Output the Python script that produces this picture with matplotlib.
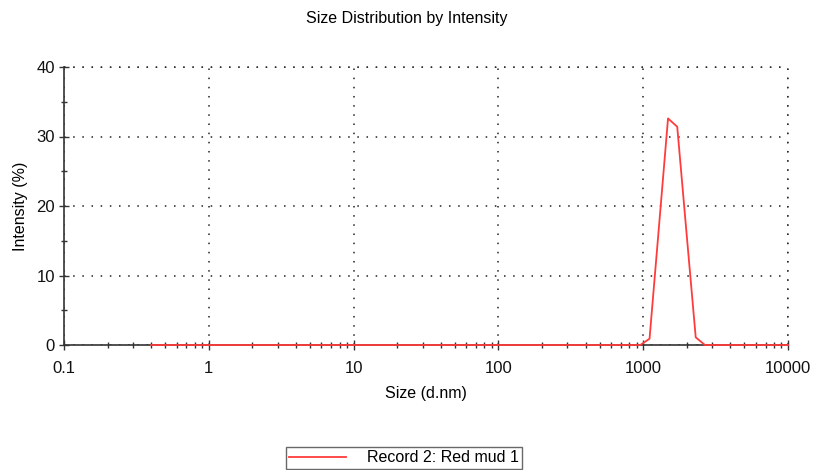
import matplotlib

matplotlib.use("Agg")
import matplotlib.pyplot as plt
from matplotlib import font_manager
from matplotlib.ticker import FixedLocator, NullFormatter

# Zetasizer size bins (d.nm) and intensity (%)
sizes = [0.4, 0.4632, 0.5365, 0.6213, 0.7195, 0.8332, 0.9649, 1.117, 1.294, 1.499,
         1.736, 2.010, 2.328, 2.696, 3.122, 3.615, 4.187, 4.849, 5.615, 6.503,
         7.531, 8.721, 10.10, 11.70, 13.54, 15.69, 18.17, 21.04, 24.36, 28.21,
         32.67, 37.84, 43.82, 50.75, 58.77, 68.06, 78.82, 91.28, 105.7, 122.4,
         141.8, 164.2, 190.1, 220.2, 255.0, 295.3, 342.0, 396.1, 458.7, 531.2,
         615.1, 712.4, 825.0, 955.4, 1106, 1281, 1484, 1718, 1990, 2305,
         2669, 3091, 3580, 4145, 4801, 5560, 6439, 7456, 8635, 10000]
intensity = [0.0] * 54 + [0.9, 16.7, 32.6, 31.4, 16.2, 1.1] + [0.0] * 10

x_ticks = [0.1, 1, 10, 100, 1000, 10000]
x_labels = ["0.1", "1", "10", "100", "1000", "10000"]
y_ticks = [0, 10, 20, 30, 40]

names = {f.name for f in font_manager.fontManager.ttflist}
fam = "Liberation Sans Narrow" if "Liberation Sans Narrow" in names else "Liberation Sans"
plt.rcParams["font.family"] = [fam, "DejaVu Sans"]

fig = plt.figure(figsize=(8.13, 4.70), dpi=100, facecolor="white")
ax = fig.add_axes([64 / 813, 1 - 345 / 470, 724 / 813, 278 / 470])

ax.set_xscale("log")
ax.set_xlim(0.1, 10000)
ax.set_ylim(0, 40)
ax.set_xticks(x_ticks)
ax.set_xticklabels(x_labels)
ax.set_yticks(y_ticks)
ax.xaxis.set_minor_locator(FixedLocator(
    [m * 10.0 ** e for e in range(-1, 4) for m in range(2, 10)]))
ax.xaxis.set_minor_formatter(NullFormatter())
ax.yaxis.set_minor_locator(FixedLocator([5, 15, 25, 35]))

for s in ("top", "right"):
    ax.spines[s].set_visible(False)
for s in ("left", "bottom"):
    ax.spines[s].set_color("#333333")
    ax.spines[s].set_linewidth(1.2)

ax.tick_params(which="both", direction="inout", color="#333333", labelsize=12,
               labelcolor="#111111")
ax.tick_params(which="major", length=7, width=1)
ax.tick_params(which="minor", length=5, width=1)
ax.tick_params(axis="x", pad=8)
ax.tick_params(axis="y", pad=3)

ax.grid(True, which="major", linestyle=(0, (1, 5)), color="#222222", linewidth=1.1)
# grid lines at the outer edges (no top/right spine)
ax.axhline(40, linestyle=(0, (1, 5)), color="#222222", linewidth=1.1, clip_on=False)
ax.axvline(10000, linestyle=(0, (1, 5)), color="#222222", linewidth=1.1, clip_on=False)

line, = ax.plot(sizes, intensity, color="#ff3b3b", linewidth=1.3,
                label="Record 2: Red mud 1", clip_on=False, zorder=5)

ax.set_xlabel("Size (d.nm)", fontsize=11.5, labelpad=7)
ax.set_ylabel("Intensity (%)", fontsize=11.5, labelpad=6)
fig.text(407 / 813, 1 - 18 / 470, "Size Distribution by Intensity",
         ha="center", va="center", fontsize=11.5)

leg = fig.legend(handles=[line], loc="center", bbox_to_anchor=(404 / 813, 1 - 458 / 470),
                 fontsize=11.5, frameon=True, fancybox=False, handlelength=3.6,
                 handletextpad=1.3, borderpad=0.2, borderaxespad=0)
leg.get_frame().set_edgecolor("#444444")
leg.get_frame().set_linewidth(1.0)

fig.savefig("out.png", dpi=100, facecolor="white")
